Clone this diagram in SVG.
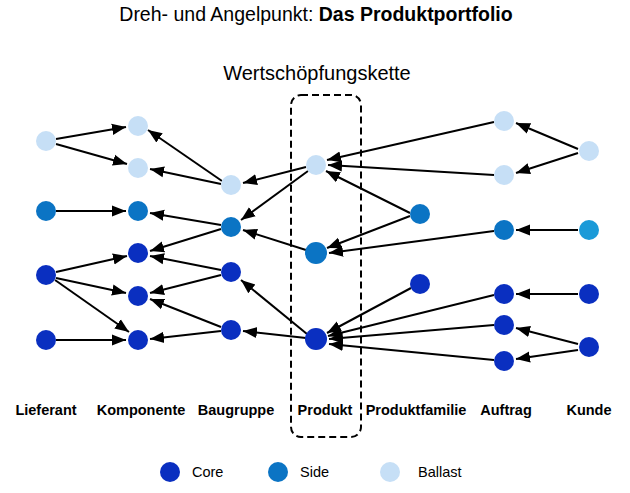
<svg xmlns="http://www.w3.org/2000/svg" width="630" height="493" viewBox="0 0 630 493">
<defs><marker id="ah" viewBox="0 0 10 10" refX="10" refY="5" markerWidth="7" markerHeight="7" orient="auto"><path d="M0,1 L10,5 L0,9 z" fill="#000"/></marker>
<style>
text{font-family:"Liberation Sans",Arial,sans-serif;fill:#000}
.lab{font-size:14.5px;font-weight:bold;text-anchor:middle}
.c{fill:#0a2fc0}.s{fill:#0b74c4}.b{fill:#c6dff6}.k{fill:#1b9ad8}
#edges line{stroke:#000;stroke-width:2;marker-end:url(#ah)}
</style></defs>
<rect width="630" height="493" fill="#fff"/>
<text x="316" y="21" font-size="19.5" text-anchor="middle">Dreh- und Angelpunkt: <tspan font-weight="bold">Das Produktportfolio</tspan></text>
<text x="317" y="80" font-size="20" text-anchor="middle">Wertschöpfungskette</text>
<rect x="291" y="95" width="70" height="342" rx="10" fill="none" stroke="#000" stroke-width="2" stroke-dasharray="7,4"/>
<g id="edges">
<line x1="56" y1="139" x2="126" y2="127"/><line x1="56" y1="144" x2="127" y2="164"/>
<line x1="56" y1="211" x2="126" y2="211"/>
<line x1="56" y1="272" x2="127" y2="256"/><line x1="56" y1="278" x2="126" y2="293"/><line x1="55" y1="280" x2="129" y2="332"/>
<line x1="56" y1="340" x2="126" y2="340"/>
<line x1="222" y1="181" x2="148" y2="130"/><line x1="221" y1="184" x2="150" y2="169"/>
<line x1="221" y1="225" x2="150" y2="213"/><line x1="221" y1="229" x2="150" y2="251"/>
<line x1="221" y1="270" x2="150" y2="256"/><line x1="221" y1="275" x2="150" y2="293"/>
<line x1="221" y1="327" x2="150" y2="299"/><line x1="221" y1="331" x2="150" y2="339"/>
<line x1="306" y1="167" x2="243" y2="183"/><line x1="308" y1="171" x2="241" y2="220"/>
<line x1="306" y1="250" x2="243" y2="230"/>
<line x1="307" y1="334" x2="241" y2="280"/><line x1="306" y1="338" x2="243" y2="331"/>
<line x1="410" y1="213" x2="326" y2="171"/><line x1="410" y1="216" x2="327" y2="248"/>
<line x1="411" y1="288" x2="327" y2="333"/>
<line x1="494" y1="122" x2="327" y2="160"/><line x1="494" y1="175" x2="328" y2="165"/>
<line x1="494" y1="231" x2="329" y2="253"/>
<line x1="494" y1="295" x2="328" y2="336"/><line x1="494" y1="325" x2="329" y2="339"/><line x1="494" y1="360" x2="329" y2="344"/>
<line x1="578" y1="149" x2="516" y2="123"/><line x1="578" y1="153" x2="516" y2="173"/>
<line x1="578" y1="230" x2="516" y2="230"/>
<line x1="578" y1="294" x2="516" y2="294"/>
<line x1="578" y1="344" x2="516" y2="328"/><line x1="578" y1="350" x2="516" y2="359"/>
</g>
<g id="n-L1"><circle class="b" cx="46" cy="141" r="10"/></g>
<g id="n-L2"><circle class="s" cx="46" cy="211" r="10"/></g>
<g id="n-L3"><circle class="c" cx="46" cy="275" r="10"/></g>
<g id="n-L4"><circle class="c" cx="46" cy="340" r="10"/></g>
<g id="n-K1"><circle class="b" cx="138" cy="126" r="10"/></g>
<g id="n-K2"><circle class="b" cx="138" cy="168" r="10"/></g>
<g id="n-K3"><circle class="s" cx="138" cy="211" r="10"/></g>
<g id="n-K4"><circle class="c" cx="138" cy="253" r="10"/></g>
<g id="n-K5"><circle class="c" cx="138" cy="296" r="10"/></g>
<g id="n-K6"><circle class="c" cx="138" cy="340" r="10"/></g>
<g id="n-B1"><circle class="b" cx="231" cy="185" r="10"/></g>
<g id="n-B2"><circle class="s" cx="231" cy="227" r="10"/></g>
<g id="n-B3"><circle class="c" cx="231" cy="272" r="10"/></g>
<g id="n-B4"><circle class="c" cx="231" cy="330" r="10"/></g>
<g id="n-P1"><circle class="b" cx="316" cy="165" r="10"/></g>
<g id="n-P2"><circle class="s" cx="316" cy="253" r="11"/></g>
<g id="n-P3"><circle class="c" cx="316" cy="339" r="11"/></g>
<g id="n-F1"><circle class="s" cx="420" cy="214" r="10"/></g>
<g id="n-F2"><circle class="c" cx="420" cy="284" r="10"/></g>
<g id="n-A1"><circle class="b" cx="504" cy="121" r="10"/></g>
<g id="n-A2"><circle class="b" cx="504" cy="175" r="10"/></g>
<g id="n-A3"><circle class="s" cx="504" cy="230" r="10"/></g>
<g id="n-A4"><circle class="c" cx="504" cy="294" r="10"/></g>
<g id="n-A5"><circle class="c" cx="504" cy="325" r="10"/></g>
<g id="n-A6"><circle class="c" cx="504" cy="361" r="10"/></g>
<g id="n-C1"><circle class="b" cx="589" cy="151" r="10"/></g>
<g id="n-C2"><circle class="k" cx="589" cy="230" r="10"/></g>
<g id="n-C3"><circle class="c" cx="589" cy="294" r="10"/></g>
<g id="n-C4"><circle class="c" cx="589" cy="347" r="10"/></g>
<g id="labels">
<text class="lab" x="46" y="415">Lieferant</text>
<text class="lab" x="141" y="415">Komponente</text>
<text class="lab" x="236" y="415">Baugruppe</text>
<text class="lab" x="325" y="415">Produkt</text>
<text class="lab" x="416" y="415">Produktfamilie</text>
<text class="lab" x="506" y="415">Auftrag</text>
<text class="lab" x="589" y="415">Kunde</text>
</g>
<g id="legend">
<circle class="c" cx="170" cy="472" r="10"/><text x="192" y="477" font-size="14.5">Core</text>
<circle class="s" cx="278" cy="472" r="10"/><text x="300" y="477" font-size="14.5">Side</text>
<circle class="b" cx="390" cy="472" r="10"/><text x="418" y="477" font-size="14.5">Ballast</text>
</g>
</svg>
